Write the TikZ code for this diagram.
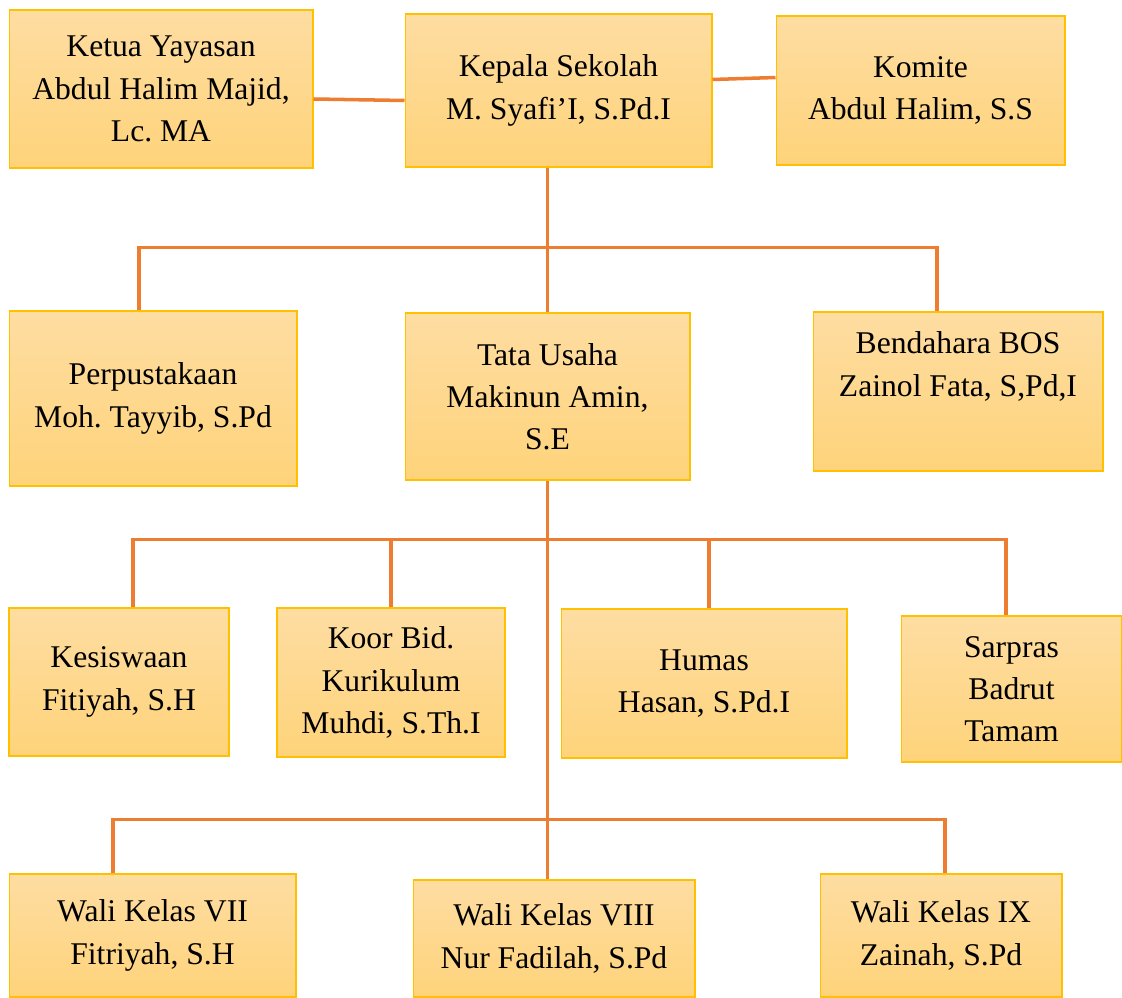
\documentclass[tikz,border=0pt]{standalone}
\usepackage{fontspec}
\setmainfont{Liberation Serif}
\usetikzlibrary{positioning}
\frenchspacing

\definecolor{boxtop}{RGB}{254,221,162}
\definecolor{boxbot}{RGB}{254,211,122}
\definecolor{boxline}{RGB}{255,192,0}
\definecolor{linkcol}{RGB}{237,125,49}

\begin{document}
\begin{tikzpicture}[
  x=0.02cm, y=-0.02cm,
  unit/.style={draw=boxline,line width=0.6pt,top color=boxtop,bottom color=boxbot,
    align=center,inner sep=2pt,font=\fontsize{18}{24}\selectfont},
  boxsize/.style 2 args={minimum width=#1,minimum height=#2},
  link/.style={draw=linkcol,line width=2pt}
]
  \useasboundingbox (0,0) rectangle (1122,997);

  % top row
  \node[unit,boxsize={6.08cm}{3.16cm}] (ketua) at (161,89) {Ketua Yayasan\\Abdul Halim Majid,\\Lc. MA};
  \node[unit,boxsize={6.14cm}{3.06cm}] (kepala) at (558.5,90.5) {Kepala Sekolah\\M. Syafi'I, S.Pd.I};
  \node[unit,boxsize={5.78cm}{2.98cm}] (komite) at (920.5,90.5) {Komite\\Abdul Halim, S.S};

  % second row
  \node[unit,boxsize={5.76cm}{3.50cm}] (perpus) at (153,398.5) {Perpustakaan\\Moh. Tayyib, S.Pd};
  \node[unit,boxsize={5.70cm}{3.34cm}] (tata) at (547.5,396.5) {Tata Usaha\\Makinun Amin,\\S.E};
  \node[unit,boxsize={5.80cm}{3.18cm}] (bend) at (958,391.5) {Bendahara BOS\\Zainol Fata, S,Pd,I\\\strut};

  % third row
  \node[unit,boxsize={4.40cm}{2.96cm}] (kes) at (119,682) {Kesiswaan\\Fitiyah, S.H};
  \node[unit,boxsize={4.56cm}{2.98cm}] (koor) at (391,682.5) {Koor Bid.\\Kurikulum\\Muhdi, S.Th.I};
  \node[unit,boxsize={5.72cm}{2.98cm}] (humas) at (704,683.5) {Humas\\Hasan, S.Pd.I};
  \node[unit,boxsize={4.42cm}{2.92cm}] (sarpras) at (1011.5,689) {Sarpras\\Badrut\\Tamam};

  % bottom row
  \node[unit,boxsize={5.74cm}{2.46cm}] (wali7) at (152.5,935.5) {Wali Kelas VII\\Fitriyah, S.H};
  \node[unit,boxsize={5.64cm}{2.34cm}] (wali8) at (554,938.5) {Wali Kelas VIII\\Nur Fadilah, S.Pd};
  \node[unit,boxsize={4.84cm}{2.46cm}] (wali9) at (941,935.5) {Wali Kelas IX\\Zainah, S.Pd};

  % connectors
  \draw[link] ([yshift=-2mm]ketua.east) -- ([yshift=-2mm]kepala.west);
  \draw[link] ([yshift=2.2mm]kepala.east) -- ([yshift=2.6mm]komite.west);
  \draw[link] (kepala.south -| tata.north) -- (tata.north);
  \draw[link] ([xshift=-2.8mm]perpus.north) -- ++(0,-63) -| ([xshift=-4.2mm]bend.north);

  \draw[link] (tata.south) -- (tata.south |- wali8.north);
  \draw[link] ([xshift=2.8mm]kes.north) -- ++(0,-68) -| ([xshift=-1.1mm]sarpras.north);
  \draw[link] (koor.north) -- ++(0,-68);
  \draw[link] ([xshift=1mm]humas.north) -- ++(0,-69);

  \draw[link] ([xshift=-7.9mm]wali7.north) -- ++(0,-54) -| ([xshift=0.8mm]wali9.north);
\end{tikzpicture}
\end{document}
